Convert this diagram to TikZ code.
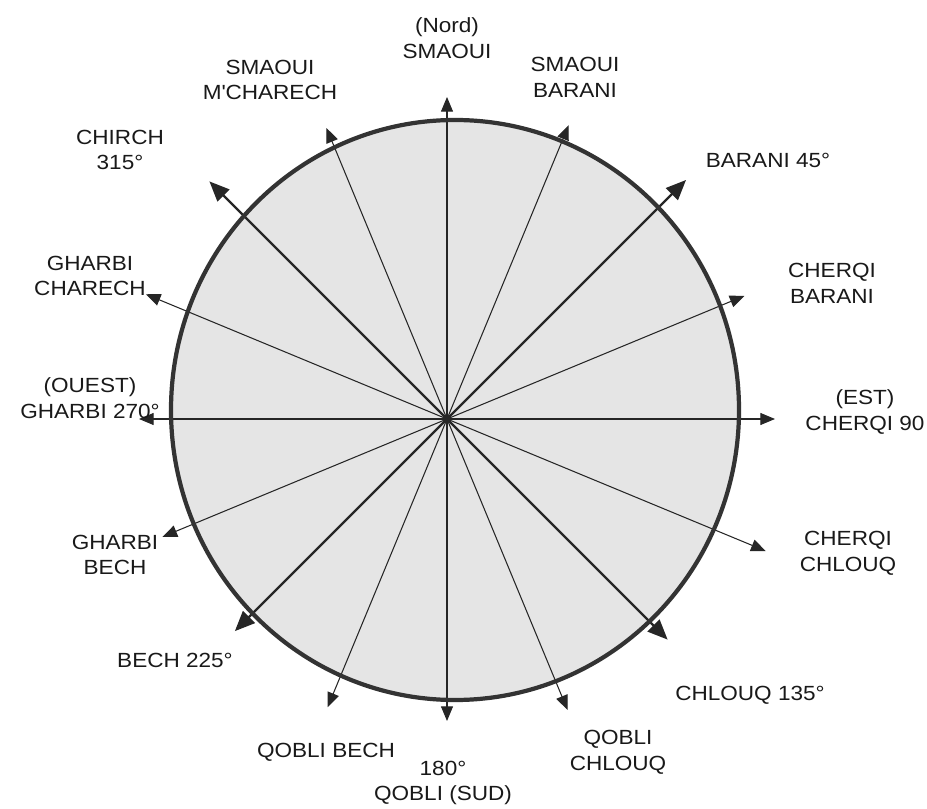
\documentclass[tikz,border=0pt]{standalone}
\usepackage{fontspec}
\setmainfont{Liberation Sans}[FakeStretch=1.1]
\usetikzlibrary{arrows.meta}

\begin{document}
\begin{tikzpicture}[
    x=0.03cm, y=0.03cm,
    lbl/.style={align=center, font=\fontsize{17.5}{22}\selectfont, inner sep=0pt, text=black!90},
    spoke/.style={line width=0.9pt, black!85, -{Triangle[length=4.4mm,width=3.6mm]}},
    mainspoke/.style={line width=2pt, black!85, -{Triangle[length=6mm,width=5mm]}},
    rim/.style={line width=3.6pt, black!80},
    disc/.style={fill=gray!20}
]
\useasboundingbox (0,0) rectangle (927,808);

% centre of the rose and the tips of the sixteen winds
\coordinate (c) at (447,389);
\foreach \b/\r [count=\i] in {0/322, 22.5/318, 45/338, 67.5/322, 90/328, 112.5/345, 135/312, 157.5/315,
                              180/302, 202.5/312, 225/300, 247.5/308, 270/308, 292.5/326, 315/336, 337.5/315}
  \path (c) ++({90-\b}:\r) coordinate (t\i);

\fill[disc] (455,398) ellipse [x radius=284, y radius=290];

\foreach \i in {1,2,4,5,6,8,9,10,12,13,14,16}
  \draw[spoke] (c) -- (t\i);
\foreach \i in {3,7,11,15}
  \draw[mainspoke] (c) -- (t\i);

\draw[rim] (455,398) ellipse [x radius=284, y radius=290];

% names of the winds
\node[lbl] (nord) at (447,770) {(Nord)\\SMAOUI};
\node[lbl] (smch) at (270,728) {SMAOUI\\M\textquotesingle CHARECH};
\node[lbl] (smba) at (575,731) {SMAOUI\\BARANI};
\node[lbl] (chirch) at (120,658) {CHIRCH\\315°};
\node[lbl] (barani) at (768,648) {BARANI 45°};
\node[lbl] (ghch) at (90,532) {GHARBI\\CHARECH};
\node[lbl] (chba) at (832,525) {CHERQI\\BARANI};
\node[lbl] (ouest) at (90,410) {(OUEST)\\GHARBI 270°};
\node[lbl] (est) at (865,396) {(EST)\\CHERQI 90};
\node[lbl] (ghbe) at (115,253) {GHARBI\\BECH};
\node[lbl] (chch) at (848,255) {CHERQI\\CHLOUQ};
\node[lbl] (bech) at (175,148) {BECH 225°};
\node[lbl] (chl) at (750,113) {CHLOUQ 135°};
\node[lbl] (qbe) at (326,56) {QOBLI BECH};
\node[lbl] (sud) at (443,25) {180°\\QOBLI (SUD)};
\node[lbl] (qch) at (618,56) {QOBLI\\CHLOUQ};
\end{tikzpicture}
\end{document}
